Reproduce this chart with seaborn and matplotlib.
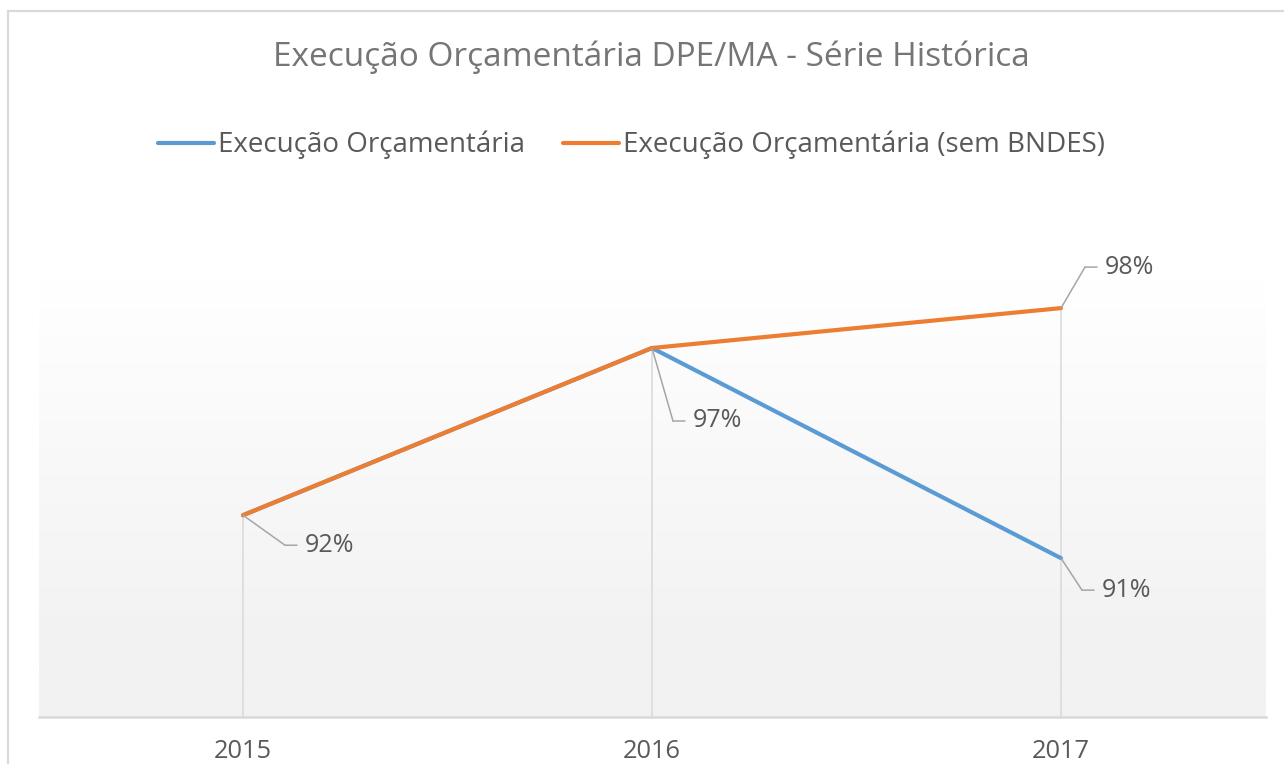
import numpy as np
import pandas as pd
import matplotlib
matplotlib.use("Agg")
import matplotlib.pyplot as plt
import matplotlib.transforms as mtransforms
from matplotlib.lines import Line2D
import seaborn as sns

# ------------------------------------------------------------
# data
# ------------------------------------------------------------
years = ["2015", "2016", "2017"]
exec_total = [92.4, 96.8, 91.27]
exec_sem_bndes = [92.4, 96.8, 97.85]
series_names = ["Execução Orçamentária", "Execução Orçamentária (sem BNDES)"]

# data labels: (series index, year index, text)
labels = [(1, 0, "92%"), (1, 1, "97%"), (1, 2, "98%"), (0, 2, "91%")]

# ------------------------------------------------------------
# style
# ------------------------------------------------------------
sns.set_style("white")
plt.rcParams["font.family"] = ["Open Sans", "DejaVu Sans"]

BLUE = "#5B9BD5"
ORANGE = "#ED7D31"
GRID = "#d9d9d9"
TXT = "#595959"

W, H = 1284, 764
fig = plt.figure(figsize=(W / 100, H / 100), dpi=100)

# chart frame (light border, top and left visible)
fig.patches.append(plt.Rectangle((8 / W, -0.1), 1.2, (H - 11) / H + 0.1,
                                 transform=fig.transFigure, fill=False,
                                 edgecolor=GRID, lw=1.6))

ax_bottom, ax_top = 717, 230
ax = fig.add_axes([38.5 / W, (H - ax_bottom) / H, 1227 / W, (ax_bottom - ax_top) / H])

# gradient background of the plot area
grad = np.ones((256, 1, 3))
t = np.linspace(0, 1, 256)
shade = 1 - np.clip((t - 0.1) / 0.75, 0, 1) * (1 - 0xf2 / 255)
grad[:, 0, :] = shade[:, None]
ax.imshow(grad, extent=[0, 1, 0, 1], transform=ax.transAxes, aspect="auto",
          origin="upper", zorder=0)

df = pd.DataFrame({
    "x": list(range(len(years))) * 2,
    "value": exec_total + exec_sem_bndes,
    "serie": [series_names[0]] * len(years) + [series_names[1]] * len(years),
})

ymin, ymax = 87.09, 99.905

# drop lines
tops = np.maximum(exec_total, exec_sem_bndes)
ax.vlines(range(len(years)), ymin, tops, color=GRID, lw=1.1, zorder=1)

sns.lineplot(data=df, x="x", y="value", hue="serie", palette=[BLUE, ORANGE],
             lw=3.0, ax=ax, legend=False, zorder=3, solid_capstyle="round")

ax.set_xlim(-0.5, len(years) - 0.5)
ax.set_ylim(ymin, ymax)
ax.set_yticks([])
ax.set_xticks(range(len(years)), years)
ax.tick_params(axis="x", length=0, pad=16, labelsize=18.3, labelcolor=TXT)
ax.set_xlabel("")
ax.set_ylabel("")
for side in ["top", "left", "right"]:
    ax.spines[side].set_visible(False)
ax.spines["bottom"].set_color(GRID)
ax.spines["bottom"].set_linewidth(1.8)
ax.spines["bottom"].set_zorder(2)

# data labels with leader lines (offsets in pixels)
offsets = {(1, 0): (42, -30), (1, 1): (21, -73), (1, 2): (24, 41), (0, 2): (21, -32)}
series_vals = [exec_total, exec_sem_bndes]
for s, i, txt in labels:
    dx, dy = offsets[(s, i)]
    p = (i, series_vals[s][i])
    ax.annotate("", xy=p, xytext=(dx, dy), textcoords="offset pixels",
                arrowprops=dict(arrowstyle="-", color="#a6a6a6", lw=1.1,
                                shrinkA=0, shrinkB=0), zorder=4)
    knee = mtransforms.offset_copy(ax.transData, fig=fig, x=dx, y=dy, units="dots")
    ax.annotate("", xy=p, xycoords=knee, xytext=(12, 0), textcoords="offset pixels",
                arrowprops=dict(arrowstyle="-", color="#a6a6a6", lw=1.1,
                                shrinkA=0, shrinkB=0), zorder=4)
    ax.annotate(txt, xy=p, xycoords=knee, xytext=(20, 0), textcoords="offset pixels",
                ha="left", va="center", fontsize=18, color=TXT, zorder=5)

# title and legend
fig.text(651.5 / W, 1 - 57 / H, "Execução Orçamentária DPE/MA - Série Histórica",
         ha="center", va="center", fontsize=24, color="#757575")
handles = [Line2D([0], [0], color=c, lw=3.0) for c in [BLUE, ORANGE]]
fig.legend(handles, series_names, loc="center", bbox_to_anchor=(631.5 / W, 1 - 145 / H),
           ncol=2, frameon=False, fontsize=20, labelcolor=TXT,
           handlelength=2.0, handletextpad=0.15, columnspacing=1.37)

fig.savefig("out.png", dpi=100)
